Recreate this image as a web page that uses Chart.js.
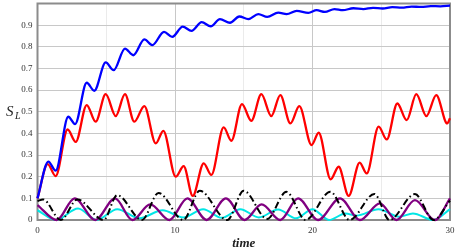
<!DOCTYPE html>
<html>
<head>
<meta charset="utf-8">
<script src="https://cdn.jsdelivr.net/npm/chart.js@4"></script>
<style>
  body { margin: 0; background: #fff; }
  #wrap { width: 458px; height: 252px; }
</style>
</head>
<body>
<div id="wrap"><canvas id="slChart" width="458" height="252"></canvas></div>
<script>
// values (time, S_L) at the turning points of each curve
const blueTime = [0, 0.79, 1.32, 2.24, 2.73, 3.58, 4.13, 4.96, 5.54, 6.36, 6.97, 7.77, 8.35, 9.2, 9.8, 10.56, 11.2, 11.94, 12.6, 13.27, 14.0, 14.68, 15.33, 16.06, 16.71, 17.51, 18.12, 18.85, 19.7, 20.3, 20.9, 21.6, 22.2, 22.97, 23.7, 24.4, 25.1, 25.8, 26.5, 27.2, 27.9, 28.6, 29.3, 30];
const blueVals = [0.10, 0.27, 0.228, 0.477, 0.443, 0.634, 0.597, 0.728, 0.692, 0.792, 0.761, 0.834, 0.808, 0.869, 0.846, 0.893, 0.874, 0.914, 0.895, 0.928, 0.911, 0.94, 0.928, 0.951, 0.938, 0.958, 0.951, 0.966, 0.957, 0.969, 0.961, 0.974, 0.969, 0.978, 0.974, 0.98, 0.977, 0.983, 0.981, 0.986, 0.984, 0.988, 0.987, 0.99];

const redTime = [0, 0.74, 1.32, 2.19, 2.78, 3.58, 4.23, 4.96, 5.69, 6.36, 7.04, 7.77, 8.6, 9.15, 10.05, 10.63, 11.29, 12.09, 12.64, 13.54, 14.1, 14.87, 15.55, 16.28, 17.0, 17.66, 18.39, 19.04, 19.93, 20.45, 21.32, 21.9, 22.63, 23.43, 23.94, 24.81, 25.4, 26.17, 26.85, 27.55, 28.28, 29.0, 29.8, 30];
const redVals = [0.10, 0.258, 0.203, 0.418, 0.361, 0.531, 0.454, 0.581, 0.48, 0.581, 0.454, 0.526, 0.354, 0.412, 0.2, 0.249, 0.111, 0.262, 0.208, 0.428, 0.366, 0.535, 0.458, 0.581, 0.48, 0.577, 0.446, 0.526, 0.346, 0.403, 0.188, 0.246, 0.111, 0.265, 0.215, 0.431, 0.372, 0.538, 0.461, 0.581, 0.48, 0.577, 0.446, 0.47];

const blackTime = [0, 0.4, 1.7, 2.9, 4.8, 5.8, 7.6, 8.8, 10.6, 11.8, 13.8, 15.0, 16.7, 18.1, 19.5, 21.3, 22.7, 24.5, 25.6, 27.45, 28.8, 30];
const blackVals = [0.088, 0.095, 0.0, 0.095, 0.0, 0.115, 0.0, 0.125, 0.0, 0.135, 0.0, 0.135, 0.005, 0.13, 0.0, 0.13, 0.0, 0.12, 0.0, 0.12, 0.0, 0.09];

const purpleTime = [0, 1.4, 2.7, 4.2, 5.64, 6.9, 8.2, 9.6, 10.9, 12.3, 13.7, 15.05, 16.3, 17.66, 18.95, 20.4, 22.0, 23.45, 24.9, 26.1, 27.45, 28.9, 30];
const purpleVals = [0.069, 0.0, 0.1, 0.0, 0.1, 0.0, 0.072, 0.0, 0.1, 0.0, 0.1, 0.0, 0.072, 0.0, 0.1, 0.0, 0.1, 0.0, 0.077, 0.0, 0.092, 0.0, 0.1];

const cyanTime = [0, 1.35, 2.95, 4.3, 5.8, 7.4, 9.1, 10.6, 12.05, 13.4, 14.75, 16.1, 17.5, 18.8, 20.0, 21.2, 22.4, 23.2, 24.8, 26.3, 27.3, 28.8, 30];
const cyanVals = [0.045, 0.0, 0.053, 0.0, 0.05, 0.008, 0.045, 0.012, 0.05, 0.01, 0.05, 0.012, 0.048, 0.008, 0.05, 0.0, 0.03, 0.02, 0.05, 0.015, 0.03, 0.0, 0.05];

const xTickLabels = [0, 10, 20, 30];
const yTickLabels = [0, 0.1, 0.2, 0.3, 0.4, 0.5, 0.6, 0.7, 0.8, 0.9];

function toPoints(times, vals) {
    return times.map((t, i) => ({ x: t, y: vals[i] }));
}

const serif = "'Liberation Serif', 'DejaVu Serif', serif";

// frame round the plot + the two axis titles
const framePlugin = {
    id: 'frame',
    beforeDatasetsDraw(chart) {
        const { ctx, chartArea: a } = chart;
        ctx.save();
        ctx.strokeStyle = '#8c8c8c';
        ctx.lineWidth = 2;
        ctx.strokeRect(a.left, a.top, a.right - a.left, a.bottom - a.top);
        ctx.restore();
    },
    afterDraw(chart) {
        const { ctx, chartArea: a } = chart;
        ctx.save();
        ctx.fillStyle = '#222';
        ctx.textBaseline = 'alphabetic';
        ctx.textAlign = 'left';
        ctx.font = 'italic 15px ' + serif;
        ctx.fillText('S', 6, 116);
        ctx.font = 'italic 10px ' + serif;
        ctx.fillText('L', 15, 119);
        ctx.textAlign = 'center';
        ctx.font = 'italic bold 13px ' + serif;
        ctx.fillText('time', (a.left + a.right) / 2, 247);
        ctx.restore();
    }
};

// keep the plot box where the reference has it (no extra room for edge labels)
function noEdgePadding(s) {
    s.paddingTop = 0;
    s.paddingBottom = 0;
    s.paddingLeft = 0;
    s.paddingRight = 0;
}

function renderChart() {
    const ctx = document.getElementById('slChart').getContext('2d');
    const common = { pointRadius: 0, cubicInterpolationMode: 'monotone', fill: false, clip: 4 };

    new Chart(ctx, {
        type: 'line',
        data: {
            datasets: [
                { ...common, data: toPoints(blueTime, blueVals), borderColor: '#0000ff', borderWidth: 2.3 },
                { ...common, data: toPoints(redTime, redVals), borderColor: '#ff0000', borderWidth: 2.3 },
                { ...common, data: toPoints(blackTime, blackVals), borderColor: '#000000', borderWidth: 2, borderDash: [7, 3, 1.5, 3] },
                { ...common, data: toPoints(purpleTime, purpleVals), borderColor: '#800080', borderWidth: 2.3 },
                { ...common, data: toPoints(cyanTime, cyanVals), borderColor: '#00e6e6', borderWidth: 2 }
            ]
        },
        options: {
            responsive: false,
            animation: false,
            layout: { padding: { top: 3.5, right: 8, left: 0, bottom: 0 } },
            plugins: { legend: { display: false }, tooltip: { enabled: false } },
            scales: {
                x: {
                    type: 'linear',
                    min: 0,
                    max: 30,
                    afterFit: s => { s.height = 32; noEdgePadding(s); },
                    border: { display: false },
                    grid: {
                        drawTicks: false,
                        color: c => (c.tick && xTickLabels.includes(c.tick.value)) ? '#c8c8c8' : '#ebebeb',
                        lineWidth: 1
                    },
                    ticks: {
                        stepSize: 5,
                        autoSkip: false,
                        maxRotation: 0,
                        padding: 5,
                        color: '#333',
                        font: { family: serif, size: 9 },
                        callback: v => xTickLabels.includes(v) ? String(v) : ''
                    }
                },
                y: {
                    min: 0,
                    max: 1,
                    afterFit: s => { s.width = 37.5; noEdgePadding(s); },
                    border: { display: false },
                    grid: {
                        drawTicks: false,
                        color: c => (c.tick && Math.round(c.tick.value * 100) % 10 === 0) ? '#c8c8c8' : '#ebebeb',
                        lineWidth: 1
                    },
                    ticks: {
                        stepSize: 0.05,
                        padding: 5,
                        color: '#333',
                        font: { family: serif, size: 9 },
                        callback: v => {
                            const k = Math.round(v * 100);
                            if (k % 10 !== 0 || k >= 100) return '';
                            const hit = yTickLabels.find(l => Math.round(l * 100) === k);
                            return hit === 0 ? '0' : hit.toFixed(1);
                        }
                    }
                }
            }
        },
        plugins: [framePlugin]
    });
}

renderChart();
</script>
</body>
</html>
